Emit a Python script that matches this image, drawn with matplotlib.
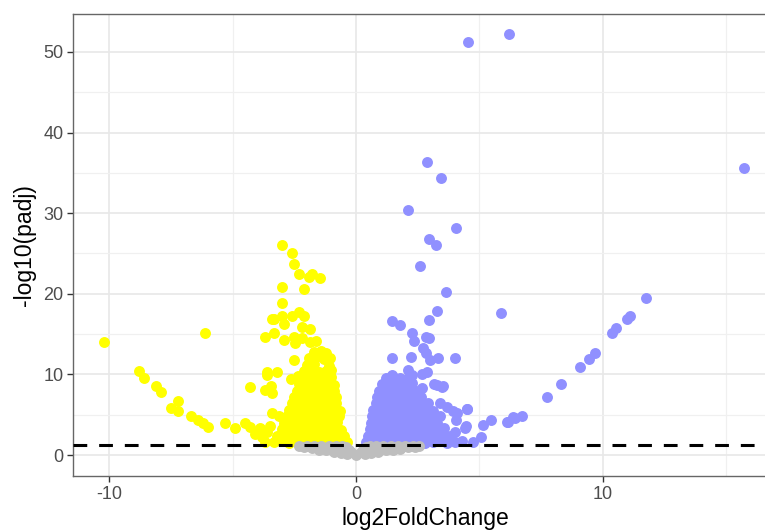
import matplotlib
matplotlib.use("Agg")
import matplotlib.pyplot as plt

plt.rcParams['font.family'] = ['Liberation Sans', 'DejaVu Sans']
plt.rcParams['axes.unicode_minus'] = False

# down-regulated (yellow): sparse outliers
down_x = [-10.2, -8.8, -8.6, -8.1, -7.9, -7.2, -7.5, -7.2, -6.7, -6.4, -6.2, -6.0,
          -6.1, -5.3, -4.9, -4.5, -4.3, -4.3, -4.1, -3.9, -3.8, -3.6, -3.5, -3.7,
          -3.4, -3.1, -3.3, -3.7, -3.4, -3.3, -3.0, -2.6, -2.5, -2.3, -1.9, -1.8,
          -1.45, -3.0, -2.1, -3.0, -3.0, -2.6, -2.3, -2.1, -2.9, -2.2, -1.85, -2.9,
          -2.5, -2.45, -2.2, -1.85, -1.6, -3.6, -3.6, -3.2, -3.7, -3.45, -3.4, -2.65,
          -2.35, -2.5]
down_y = [14.0, 10.4, 9.5, 8.5, 7.8, 6.7, 5.8, 5.5, 4.9, 4.4, 4.0, 3.5,
          15.1, 4.0, 3.4, 4.0, 3.5, 8.4, 2.6, 3.3, 2.2, 2.8, 3.6, 1.6,
          5.2, 4.8, 16.9, 14.6, 16.9, 15.1, 26.1, 25.1, 23.7, 22.5, 22.1, 22.5,
          22.0, 20.8, 20.6, 18.8, 17.2, 17.2, 17.7, 17.3, 16.3, 15.9, 15.6, 14.3,
          14.6, 13.9, 14.5, 14.0, 14.1, 10.3, 9.9, 10.3, 8.1, 8.6, 7.7, 9.4,
          9.8, 11.8]

# down-regulated: dense wedge near zero
down_dense_x = [-3.3, -3.0, -2.7, -2.4, -2.1, -1.8, -1.5, -1.2, -0.9, -0.6, -0.35,
                -3.2, -2.9, -2.6, -2.3, -2.0, -1.7, -1.4, -1.1, -0.8, -0.5,
                -3.0, -2.7, -2.4, -2.1, -1.8, -1.5, -1.2, -0.9, -0.6,
                -2.9, -2.6, -2.3, -2.0, -1.7, -1.4, -1.1, -0.75,
                -2.8, -2.5, -2.2, -1.9, -1.6, -1.3, -1.0, -0.7,
                -2.7, -2.4, -2.1, -1.8, -1.5, -1.2, -0.9, -0.65,
                -2.6, -2.3, -2.0, -1.7, -1.4, -1.1, -0.8,
                -2.5, -2.2, -1.9, -1.6, -1.3, -1.0, -0.8,
                -2.4, -2.1, -1.8, -1.5, -1.2, -0.9,
                -2.3, -2.0, -1.7, -1.4, -1.1, -0.9,
                -2.2, -1.9, -1.6, -1.3, -1.0,
                -2.1, -1.8, -1.5, -1.2, -1.0,
                -2.0, -1.7, -1.1,
                -1.9, -1.6, -1.3, -1.05,
                -1.7, -1.4, -1.2]
down_dense_y = [1.6, 1.7, 1.5, 1.6, 1.7, 1.5, 1.6, 1.7, 1.5, 1.6, 1.6,
                2.4, 2.5, 2.3, 2.4, 2.5, 2.3, 2.4, 2.5, 2.3, 2.4,
                3.2, 3.3, 3.1, 3.2, 3.3, 3.1, 3.2, 3.3, 3.1,
                4.0, 4.1, 3.9, 4.0, 4.1, 3.9, 4.0, 4.1,
                4.8, 4.9, 4.7, 4.8, 4.9, 4.7, 4.8, 4.9,
                5.6, 5.7, 5.5, 5.6, 5.7, 5.5, 5.6, 5.5,
                6.4, 6.5, 6.3, 6.4, 6.5, 6.3, 6.4,
                7.2, 7.3, 7.1, 7.2, 7.3, 7.1, 7.2,
                8.0, 8.1, 7.9, 8.0, 8.1, 7.9,
                8.8, 8.9, 8.7, 8.8, 8.9, 8.7,
                9.6, 9.7, 9.5, 9.6, 9.7,
                10.4, 10.5, 10.3, 10.4, 10.5,
                11.2, 11.3, 11.1,
                12.0, 12.1, 11.9, 12.0,
                12.8, 12.9, 12.7]

# up-regulated (blue): sparse outliers
up_x = [4.55, 6.18, 15.7, 2.86, 3.44, 2.12, 4.06, 2.94, 3.23, 2.59, 3.64, 3.29,
        2.97, 1.45, 1.78, 5.88, 2.28, 2.36, 2.83, 2.97, 2.73, 2.83, 3.0, 3.31,
        1.47, 2.23, 4.0, 2.12, 2.25, 1.45, 2.66, 2.86, 2.66, 3.17, 3.47, 4.48,
        4.07, 4.45, 5.13, 5.47, 6.1, 6.37, 4.75, 5.06, 11.75, 11.09, 10.96, 10.53,
        10.38, 9.68, 9.43, 9.06, 8.31, 7.72, 6.71, 6.44, 6.17, 4.51, 4.08, 3.27,
        3.54, 4.41, 4.0, 3.4, 3.67, 3.94]
up_y = [51.2, 52.2, 35.6, 36.3, 34.3, 30.4, 28.1, 26.8, 26.0, 23.4, 20.2, 17.9,
        16.75, 16.6, 16.1, 17.6, 15.1, 14.15, 14.7, 14.55, 13.24, 12.6, 11.8, 12.0,
        12.0, 12.1, 12.0, 10.5, 9.9, 9.9, 10.1, 10.3, 8.27, 8.77, 8.47, 5.67,
        4.34, 3.64, 3.72, 4.34, 4.05, 4.75, 1.65, 2.27, 19.5, 17.3, 16.9, 15.7,
        15.1, 12.7, 11.9, 10.96, 8.8, 7.15, 4.84, 4.55, 4.13, 5.7, 5.2, 8.7,
        8.5, 3.3, 2.8, 6.4, 6.0, 5.4]

# up-regulated: dense wedge near zero
up_dense_x = [0.4, 0.7, 1.0, 1.3, 1.6, 1.9, 2.2, 2.5, 2.8, 3.1, 3.4, 3.7, 4.0, 4.3,
              0.5, 0.8, 1.1, 1.4, 1.7, 2.0, 2.3, 2.6, 2.9, 3.2, 3.5, 3.8,
              0.55, 0.85, 1.15, 1.45, 1.75, 2.05, 2.35, 2.65, 2.95, 3.25, 3.55,
              0.6, 0.9, 1.2, 1.5, 1.8, 2.1, 2.4, 2.7, 3.0, 3.3,
              0.65, 0.95, 1.25, 1.55, 1.85, 2.15, 2.45, 2.75, 3.1, 3.4,
              0.7, 1.0, 1.3, 1.6, 1.9, 2.2, 2.5, 2.8, 3.1,
              0.8, 1.1, 1.4, 1.7, 2.0, 2.3, 2.6, 2.9,
              0.85, 1.15, 1.45, 1.75, 2.05, 2.35, 2.65,
              0.95, 1.25, 1.55, 1.85, 2.15, 2.45,
              1.05, 1.35, 1.65, 1.95, 2.25,
              1.2, 1.5, 1.8, 2.1]
up_dense_y = [1.6, 1.7, 1.5, 1.6, 1.7, 1.5, 1.6, 1.7, 1.5, 1.6, 1.7, 1.5, 1.6, 1.7,
              2.4, 2.5, 2.3, 2.4, 2.5, 2.3, 2.4, 2.5, 2.3, 2.4, 2.5, 2.3,
              3.2, 3.3, 3.1, 3.2, 3.3, 3.1, 3.2, 3.3, 3.1, 3.2, 3.3,
              4.0, 4.1, 3.9, 4.0, 4.1, 3.9, 4.0, 4.1, 3.9, 4.0,
              4.8, 4.9, 4.7, 4.8, 4.9, 4.7, 4.8, 4.9, 4.7, 4.8,
              5.6, 5.7, 5.5, 5.6, 5.7, 5.5, 5.6, 5.7, 5.5,
              6.4, 6.5, 6.3, 6.4, 6.5, 6.3, 6.4, 6.5,
              7.2, 7.3, 7.1, 7.2, 7.3, 7.1, 7.2,
              8.0, 8.1, 7.9, 8.0, 8.1, 7.9,
              8.8, 8.9, 8.7, 8.8, 8.9,
              9.6, 9.7, 9.5, 9.6]

# not significant (grey)
ns_x = [-2.3, -2.0, -1.7, -1.4, -1.1, -0.8, -0.55, 0.55, 0.8, 1.1, 1.4, 1.7, 2.0, 2.3, 2.55,
        -2.1, -1.8, -1.5, -1.2, -0.9, -0.6, -0.4, 0.4, 0.6, 0.9, 1.2, 1.5, 1.8, 2.1, 2.4,
        -1.5, -1.2, -0.9, -0.6, -0.3, 0.3, 0.6, 0.9, 1.2, 1.5, 1.8,
        -0.9, -0.6, -0.2, 0.2, 0.6, 0.9,
        -0.35, 0.0, 0.35]
ns_y = [1.15, 1.15, 1.1, 1.15, 1.1, 1.15, 1.1, 1.1, 1.15, 1.1, 1.15, 1.1, 1.15, 1.1, 1.15,
        0.95, 0.9, 0.95, 0.9, 0.95, 0.9, 0.95, 0.95, 0.9, 0.95, 0.9, 0.95, 0.9, 0.95, 1.0,
        0.65, 0.6, 0.65, 0.6, 0.65, 0.65, 0.6, 0.65, 0.6, 0.65, 0.7,
        0.35, 0.3, 0.35, 0.35, 0.3, 0.35,
        0.1, 0.05, 0.1]

padj_cut = 1.3  # -log10(0.05)

fig = plt.figure(figsize=(7.65, 5.31), dpi=100)
ax = fig.add_axes([0.0954, 0.1036, 0.92, 0.870])

pt = 62
ax.scatter(down_x + down_dense_x, down_y + down_dense_y, s=pt, color='#FFFF00',
           linewidths=0, zorder=3)
ax.scatter(up_x + up_dense_x, up_y + up_dense_y, s=pt, color='#9090FF',
           linewidths=0, zorder=3)
ax.scatter(ns_x, ns_y, s=pt, color='#BEBEBE', linewidths=0, zorder=4)

ax.axhline(padj_cut, color='black', linewidth=2.2, dashes=(4.5, 3.9), zorder=5)

ax.set_xlim(-11.46, 17.04)
ax.set_ylim(-2.6, 54.7)
ax.set_xticks([-10, 0, 10])
ax.set_yticks([0, 10, 20, 30, 40, 50])
ax.set_xticks([-5, 5, 15], minor=True)
ax.set_yticks([5, 15, 25, 35, 45], minor=True)
ax.grid(which='major', color='#E8E8E8', linewidth=1.2, zorder=0)
ax.grid(which='minor', color='#F0F0F0', linewidth=0.9, zorder=0)
ax.set_axisbelow(True)
ax.tick_params(which='minor', length=0)
ax.tick_params(which='major', length=4, width=1, color='#333333',
               labelsize=13, labelcolor='#4D4D4D', pad=3)
for sp in ax.spines.values():
    sp.set_color('#666666')
    sp.set_linewidth(1.0)

ax.set_xlabel('log2FoldChange', fontsize=16.5, labelpad=3)
ax.set_ylabel('-log10(padj)', fontsize=16.5, labelpad=5)

fig.savefig('out.png', dpi=100)
